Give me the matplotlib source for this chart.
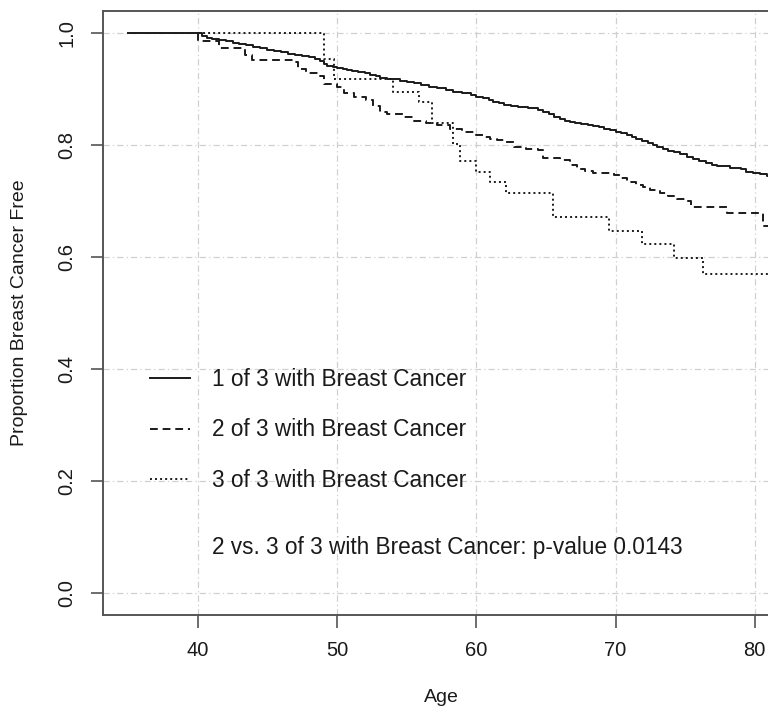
import matplotlib
matplotlib.use("Agg")
import matplotlib.pyplot as plt
from matplotlib.lines import Line2D

plt.rcParams["font.family"] = ["Liberation Sans", "DejaVu Sans"]

# Kaplan-Meier step curves (age, proportion free)
age_1of3 = [35.0, 40.3, 40.7, 41.0, 41.5, 42.0, 42.5, 43.0, 43.5, 44.0, 44.5,
            45.0, 45.5, 46.0, 46.5, 47.0, 47.5, 48.0, 48.4, 48.8, 49.1, 49.3,
            49.7, 50.0, 50.4, 50.7, 51.1, 51.5, 52.0, 52.4, 52.8, 53.1, 53.6,
            54.0, 54.5, 55.0, 55.5, 56.0, 56.6, 57.2, 57.8, 58.3, 59.0, 59.6,
            60.0, 60.5, 60.9, 61.2, 61.6, 62.0, 62.5, 63.0, 63.7, 64.4, 64.8,
            65.2, 65.6, 66.0, 66.4, 66.7, 67.1, 67.5, 68.0, 68.4, 68.8, 69.2,
            69.6, 70.0, 70.4, 70.8, 71.2, 71.5, 71.9, 72.3, 72.7, 73.0, 73.4,
            73.8, 74.2, 74.6, 75.1, 75.6, 76.0, 76.5, 76.9, 77.3, 78.2, 79.0,
            79.4, 79.9, 80.4, 80.9, 82.0]
surv_1of3 = [1.000, 0.995, 0.992, 0.990, 0.988, 0.986, 0.983, 0.981, 0.979,
             0.976, 0.974, 0.971, 0.969, 0.966, 0.964, 0.962, 0.959, 0.957,
             0.954, 0.950, 0.946, 0.941, 0.939, 0.938, 0.936, 0.935, 0.933,
             0.931, 0.929, 0.926, 0.923, 0.921, 0.919, 0.918, 0.915, 0.913,
             0.911, 0.908, 0.905, 0.902, 0.899, 0.896, 0.893, 0.890, 0.887,
             0.884, 0.881, 0.878, 0.875, 0.872, 0.870, 0.868, 0.866, 0.863,
             0.860, 0.856, 0.851, 0.846, 0.844, 0.842, 0.840, 0.838, 0.836,
             0.834, 0.832, 0.829, 0.827, 0.824, 0.821, 0.818, 0.815, 0.812,
             0.808, 0.804, 0.800, 0.796, 0.793, 0.790, 0.787, 0.784, 0.779,
             0.775, 0.771, 0.768, 0.765, 0.762, 0.760, 0.758, 0.753, 0.751,
             0.748, 0.745, 0.745]

age_2of3 = [40.0, 40.05, 41.5, 43.4, 43.9, 46.9, 47.2, 47.8, 48.8, 49.1, 50.0,
            50.5, 51.2, 52.1, 52.6, 53.1, 53.6, 54.8, 55.5, 56.4, 57.2, 58.1,
            59.0, 60.0, 60.5, 61.0, 61.5, 62.0, 62.7, 63.6, 64.4, 64.8, 66.0,
            66.7, 67.2, 67.8, 68.4, 69.9, 70.3, 70.8, 71.5, 72.0, 72.5, 73.2,
            73.8, 74.4, 75.1, 75.4, 78.0, 80.6, 82.0]
surv_2of3 = [1.000, 0.987, 0.974, 0.962, 0.952, 0.949, 0.937, 0.930, 0.924,
             0.910, 0.905, 0.893, 0.887, 0.880, 0.870, 0.860, 0.855, 0.851,
             0.844, 0.840, 0.836, 0.829, 0.824, 0.818, 0.815, 0.812, 0.809,
             0.806, 0.796, 0.794, 0.792, 0.778, 0.774, 0.765, 0.758, 0.754,
             0.750, 0.747, 0.741, 0.735, 0.729, 0.725, 0.720, 0.714, 0.709,
             0.704, 0.701, 0.690, 0.679, 0.655, 0.655]

age_3of3 = [40.0, 49.1, 49.8, 54.05, 55.9, 56.85, 58.3, 58.8, 59.95, 61.0,
            62.15, 65.5, 69.5, 71.9, 74.2, 76.3, 82.0]
surv_3of3 = [1.000, 0.955, 0.918, 0.895, 0.877, 0.839, 0.803, 0.771, 0.753,
             0.735, 0.715, 0.671, 0.646, 0.624, 0.599, 0.570, 0.570]

labels = ["1 of 3 with Breast Cancer", "2 of 3 with Breast Cancer",
          "3 of 3 with Breast Cancer"]
pvalue_text = "2 vs. 3 of 3 with Breast Cancer: p-value 0.0143"
x_ticks = [40, 50, 60, 70, 80]
y_ticks = [0.0, 0.2, 0.4, 0.6, 0.8, 1.0]

ink = "#1a1a1a"
styles = [dict(linestyle="-"),
          dict(linestyle=(0, (4, 2.5))),
          dict(linestyle=(0, (1, 1.6)))]

fig = plt.figure(figsize=(7.68, 7.08), dpi=100)
ax = fig.add_axes([103 / 768, 1 - 615 / 708, (768 - 103) / 768, (615 - 11) / 708])

ax.set_xlim(33.2, 80.95)
ax.set_ylim(-0.04, 1.04)

grid_ls = (0, (5, 2.5, 1, 2.5))
for x in x_ticks:
    ax.axvline(x, color="#d0d0d0", lw=0.9, ls=grid_ls, zorder=0)
for y in y_ticks:
    ax.axhline(y, color="#d0d0d0", lw=0.9, ls=grid_ls, zorder=0)

curves = [(age_1of3, surv_1of3), (age_2of3, surv_2of3), (age_3of3, surv_3of3)]
for (a, s), st in zip(curves, styles):
    ax.plot(a, s, drawstyle="steps-post", color=ink, lw=1.4, **st)

for side in ["top", "left", "bottom"]:
    ax.spines[side].set_color("#555555")
    ax.spines[side].set_linewidth(1.4)
ax.spines["right"].set_visible(False)

ax.set_xticks(x_ticks)
ax.set_yticks(y_ticks)
ax.set_yticklabels([f"{v:.1f}" for v in y_ticks], rotation=90, va="center")
ax.tick_params(direction="out", length=9, width=1.2, color="#555555",
               labelsize=14.5, labelcolor=ink)
ax.tick_params(axis="x", pad=10)
ax.tick_params(axis="y", pad=10)

ax.set_xlabel("Age", fontsize=14, color=ink, va="center")
ax.xaxis.set_label_coords((441 - 103) / 665, -(697 - 615) / 604)
ax.set_ylabel("Proportion Breast Cancer Free", fontsize=14, color=ink, va="center")
ax.yaxis.set_label_coords((20 - 103) / 665, 0.5)

handles = [Line2D([], [], color=ink, lw=1.4, **st) for st in styles]
ax.legend(handles, labels, loc="upper left", bbox_to_anchor=(36.57, 0.402),
          bbox_transform=ax.transData, frameon=False, fontsize=16.3,
          handlelength=1.77, handletextpad=0.97, labelspacing=1.22,
          borderpad=0, borderaxespad=0, labelcolor=ink)
ax.text(41.03, 0.081, pvalue_text, fontsize=16.3, color=ink, va="center")

fig.savefig("out.png", dpi=100)
